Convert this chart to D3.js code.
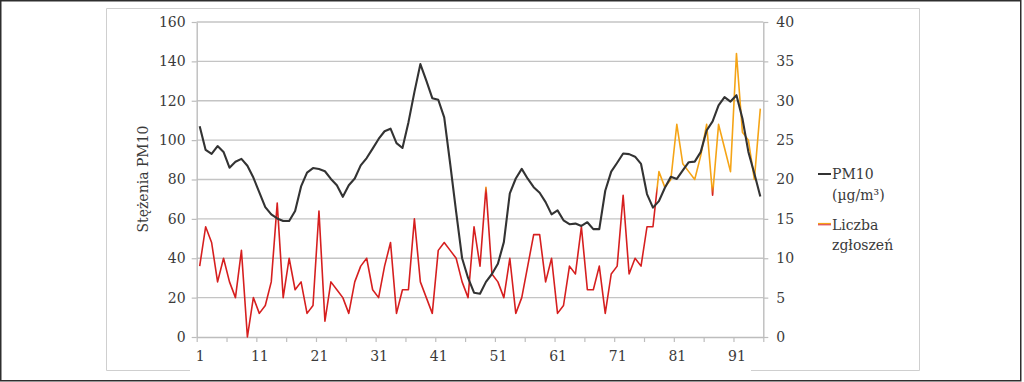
<!DOCTYPE html>
<html><head><meta charset="utf-8">
<script src="https://cdn.jsdelivr.net/npm/d3@7"></script>
<style>
html,body{margin:0;padding:0;background:#fff;}
svg{display:block;}
text{font-family:"DejaVu Serif",serif;fill:#3a3a3a;}
</style></head>
<body>
<svg id="c" width="1024" height="382"></svg>
<script>
const pm10 = [107,95,93,97,94,86,89,90.5,87,81,73.5,66,62.3,60.2,58.9,58.9,64,76.5,83.5,85.8,85.3,84.2,80.3,77.1,71.2,77.1,80.5,87.2,90.9,95.7,100.6,104.5,105.8,98.5,96,109,124.4,138.6,130.2,121.3,120.5,111.6,88,63.5,40,30,22.5,22,28,32,37.2,48.2,73,80.5,85.4,80.4,76.1,73.3,68.5,62.3,64.3,59.3,57.3,57.6,56.4,58.3,54.8,54.8,74.3,84,88.5,93.2,92.9,91.6,87.9,72.6,65.7,69,75.8,81.4,80.3,84.6,88.8,89.1,93.9,104.9,109.5,117.6,121.8,119.6,122.8,111,94,83,71.4];
const counts = [9,14,12,7,10,7,5,11,0,5,3,4,7,17,5,10,6,7,3,4,16,2,7,6,5,3,7,9,10,6,5,9,12,3,6,6,15,7,5,3,11,12,11,10,7,5,14,9,19,8,7,5,10,3,5,9,13,13,7,10,3,4,9,8,14,6,6,9,3,8,9,18,8,10,9,14,14,21,19,20,27,22,21,20,23,27,18,27,24,21,36,26,25,20,29];
const days = d3.range(1, 96);
const xLabels = [1,11,21,31,41,51,61,71,81,91];
const leftTicks = [0,20,40,60,80,100,120,140,160];
const rightTicks = [0,5,10,15,20,25,30,35,40];
const seriesNames = ["PM10", "(µg/m³)", "Liczba", "zgłoszeń"];
const yTitle = "Stężenia PM10";

const svg = d3.select("#c");
const L = 196.7, R = 763.3, T = 22, B = 337;
const x = d3.scaleLinear().domain([0.5, 95.5]).range([L, R]);
const yL = d3.scaleLinear().domain([0,160]).range([B, T]);
const yR = d3.scaleLinear().domain([0,40]).range([B, T]);

// outer border
svg.append("rect").attr("x",0.75).attr("y",0.75).attr("width",1020).attr("height",380)
  .attr("fill","none").attr("stroke","#2e2e2e").attr("stroke-width",1.5);
// inner frame (bottom edge partially visible in reference)
svg.append("path").attr("d","M190,370.5 L106.5,370.5 L106.5,8.5 L919.5,8.5 L919.5,370.5 L751,370.5")
  .attr("fill","none").attr("stroke","#cfcfcf").attr("stroke-width",1);

// gridlines
svg.append("g").selectAll("line").data(leftTicks.filter(d=>d>0)).join("line")
  .attr("x1",L).attr("x2",R).attr("y1",d=>yL(d)).attr("y2",d=>yL(d))
  .attr("stroke","#c4c4c4").attr("stroke-width",1.4);

// axes
function styleAxis(g){
  g.select(".domain").attr("stroke","#bdbdbd").attr("stroke-width",1.4);
  g.selectAll(".tick line").attr("stroke","#bdbdbd").attr("stroke-width",1.2);
  g.selectAll("text").attr("font-size",14).attr("fill","#3a3a3a").attr("font-family","DejaVu Serif");
}
svg.append("g").attr("transform",`translate(${L},0)`)
  .call(d3.axisLeft(yL).tickValues(leftTicks).tickSize(5).tickPadding(6).tickSizeOuter(0))
  .call(styleAxis);
svg.append("g").attr("transform",`translate(${R},0)`)
  .call(d3.axisRight(yR).tickValues(rightTicks).tickSize(5).tickPadding(8).tickSizeOuter(0))
  .call(styleAxis);
const bounds = d3.range(0.5, 96, 5);
svg.append("g").attr("transform",`translate(0,${B})`)
  .call(d3.axisBottom(x).tickValues(bounds).tickFormat("").tickSize(5).tickSizeOuter(0))
  .call(styleAxis);
svg.append("g").attr("transform",`translate(0,${B})`)
  .call(d3.axisBottom(x).tickValues(xLabels).tickFormat(d3.format("d")).tickSize(0).tickPadding(14))
  .call(styleAxis).call(g=>g.select(".domain").remove());

// gradient for counts line
const defs = svg.append("defs");
const gr = defs.append("linearGradient").attr("id","cg").attr("gradientUnits","userSpaceOnUse")
  .attr("x1",0).attr("x2",0).attr("y1",yR(18.2)).attr("y2",yR(19.2));
gr.append("stop").attr("offset",0).attr("stop-color","#d61f1f");
gr.append("stop").attr("offset",1).attr("stop-color","#f5a416");

const line = (ys, vals) => d3.line().x((d,i)=>x(days[i])).y(d=>ys(d))(vals);
svg.append("path").attr("d",line(yR,counts)).attr("fill","none")
  .attr("stroke","url(#cg)").attr("stroke-width",1.6).attr("stroke-linejoin","round");
svg.append("path").attr("d",line(yL,pm10)).attr("fill","none")
  .attr("stroke","#333333").attr("stroke-width",2.1).attr("stroke-linejoin","round");

// y title
svg.append("text").attr("transform","translate(143,179) rotate(-90)")
  .attr("text-anchor","middle").attr("dominant-baseline","central")
  .attr("font-size",14).text(yTitle);

// legend
const lgd = svg.append("g");
lgd.append("line").attr("x1",818).attr("x2",831).attr("y1",174).attr("y2",174)
  .attr("stroke","#333").attr("stroke-width",2);
lgd.append("line").attr("x1",818).attr("x2",831).attr("y1",223.5).attr("y2",223.5)
  .attr("stroke","#f5a416").attr("stroke-width",1.2);
lgd.append("line").attr("x1",818).attr("x2",831).attr("y1",224.8).attr("y2",224.8)
  .attr("stroke","#d61f1f").attr("stroke-width",1);
const ly = [179, 200, 230, 250];
seriesNames.forEach((t,i)=>{
  lgd.append("text").attr("x",832).attr("y",ly[i]).attr("font-size",14).text(t);
});
</script>
</body></html>
